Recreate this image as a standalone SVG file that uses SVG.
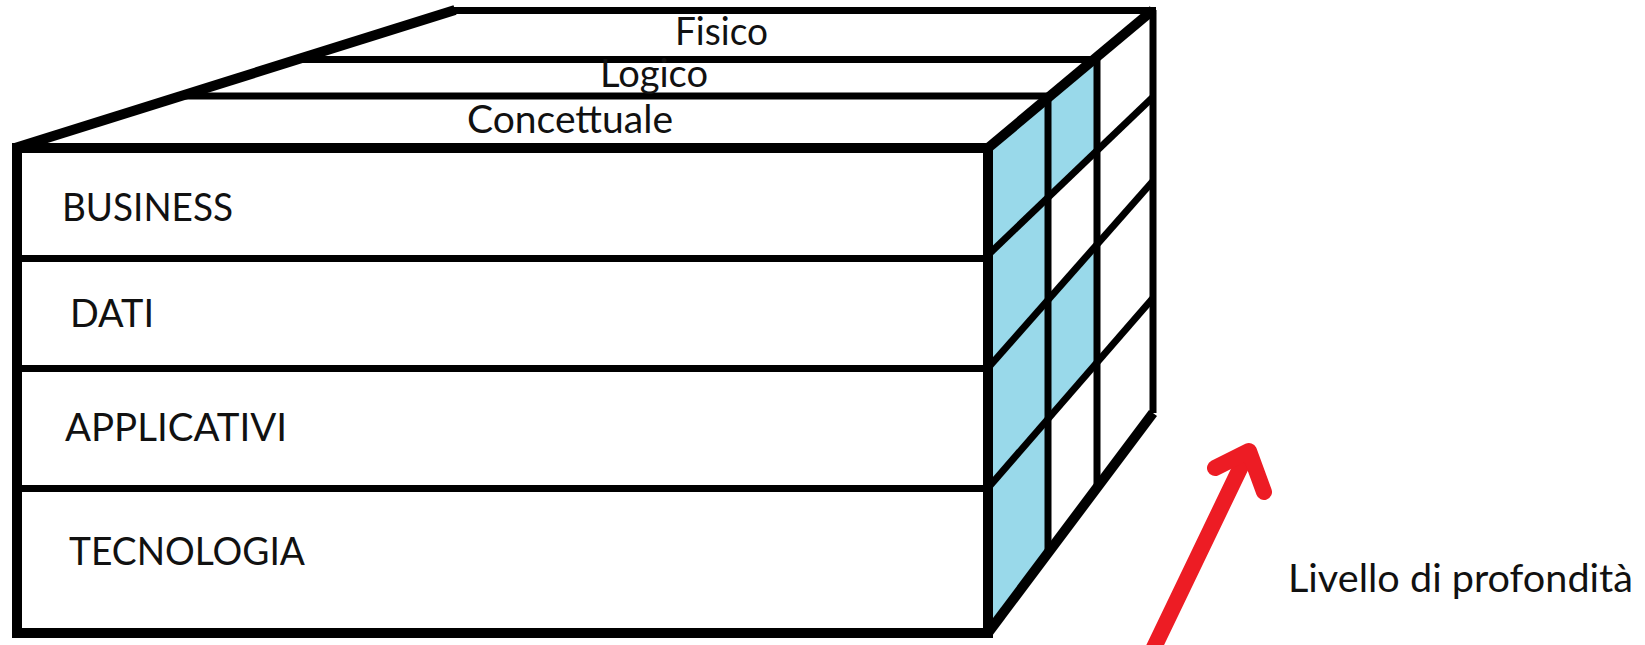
<svg xmlns="http://www.w3.org/2000/svg" width="1645" height="645" viewBox="0 0 1645 645">
<style>
.lbl{font-family:Lato,"Open Sans","Liberation Sans",sans-serif;font-size:38px;fill:#111}
.thick{stroke:#000;stroke-width:10;fill:none;stroke-linejoin:miter}
.thin{stroke:#000;stroke-width:7;fill:none}
.blue{fill:#99D9EA;stroke:none}
</style>
<rect width="1645" height="645" fill="#fff"/>
<g id="side-face">
<polygon class="blue" points="988,148 1048,98 1048,553 988,633"/>
<polygon class="blue" points="1048,98 1097,57 1097,151 1048,198"/>
<polygon class="blue" points="1048,300 1097,245 1097,363 1048,419"/>
<line class="thin" x1="1048" y1="98" x2="1048" y2="553"/>
<line class="thin" x1="1097" y1="57" x2="1097" y2="488"/>
<line class="thin" x1="1153" y1="10" x2="1153" y2="413"/>
<line class="thin" x1="988" y1="255" x2="1153" y2="97"/>
<line class="thin" x1="988" y1="368" x2="1153" y2="181"/>
<line class="thin" x1="988" y1="488" x2="1153" y2="298"/>
<line class="thick" x1="988" y1="148" x2="1153" y2="10"/>
<line class="thick" x1="988" y1="633" x2="1153" y2="413"/>
</g>
<g id="top-face">
<line class="thin" x1="452" y1="10.5" x2="1156" y2="10.5"/>
<line class="thin" x1="300" y1="59.5" x2="1097" y2="59.5"/>
<line class="thin" x1="180" y1="96" x2="1048" y2="96"/>
<line class="thick" x1="15" y1="148" x2="455" y2="10"/>
</g>
<g id="layer-fisico"><text class="lbl" x="675" y="45" textLength="93" lengthAdjust="spacingAndGlyphs">Fisico</text></g>
<g id="layer-logico"><text class="lbl" x="600" y="87" textLength="108" lengthAdjust="spacingAndGlyphs">Logico</text></g>
<g id="layer-concettuale"><text class="lbl" x="467" y="133" textLength="206" lengthAdjust="spacingAndGlyphs">Concettuale</text></g>
<g id="front-face">
<rect x="17" y="148" width="971" height="485" fill="none" stroke="#000" stroke-width="10"/>
<line class="thin" x1="22" y1="258.5" x2="984" y2="258.5"/>
<line class="thin" x1="22" y1="368.5" x2="984" y2="368.5"/>
<line class="thin" x1="22" y1="488.5" x2="984" y2="488.5"/>
</g>
<g id="layer-business"><text class="lbl" x="62" y="221" textLength="171" lengthAdjust="spacingAndGlyphs">BUSINESS</text></g>
<g id="layer-dati"><text class="lbl" x="70" y="327" textLength="84" lengthAdjust="spacingAndGlyphs">DATI</text></g>
<g id="layer-applicativi"><text class="lbl" x="65" y="441" textLength="222" lengthAdjust="spacingAndGlyphs">APPLICATIVI</text></g>
<g id="layer-tecnologia"><text class="lbl" x="69" y="565" textLength="236" lengthAdjust="spacingAndGlyphs">TECNOLOGIA</text></g>
<g id="connectors">
<g id="depth-arrow" fill="none" stroke="#ED1C24" stroke-width="16" stroke-linecap="round" stroke-linejoin="round">
<path d="M1148,660 L1246,456"/>
<path d="M1215,468 L1249,451 L1264,492"/>
</g>
</g>
<g id="depth-label"><text class="lbl" x="1288" y="592" textLength="345" lengthAdjust="spacingAndGlyphs">Livello di profondità</text></g>
</svg>
